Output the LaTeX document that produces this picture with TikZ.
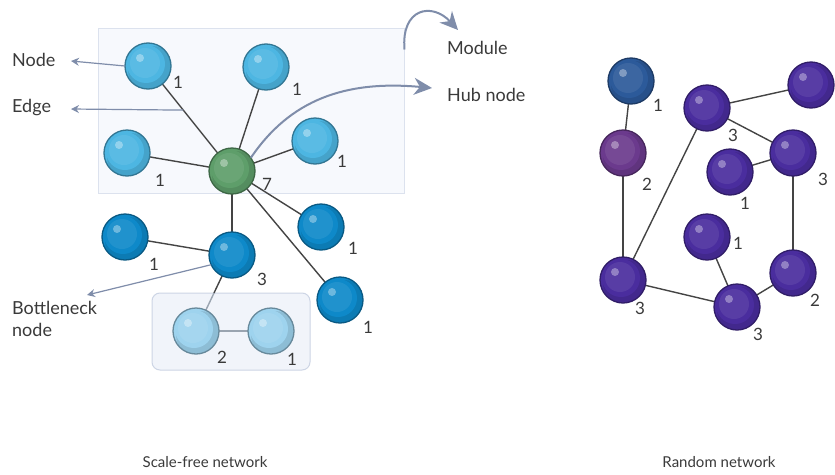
\documentclass[tikz,border=0pt]{standalone}
\usepackage{fontspec}
\setmainfont{Lato}
\usetikzlibrary{arrows.meta,calc}
\definecolor{modnode}{HTML}{4DB6E2}
\definecolor{outnode}{HTML}{0E89C9}
\definecolor{palenode}{HTML}{9ED3EE}
\definecolor{hubc}{HTML}{5E9E6A}
\definecolor{randc}{HTML}{4A2D9E}
\definecolor{rblue}{HTML}{2C5A9A}
\definecolor{rpurple}{HTML}{6B3A8D}
\definecolor{edgec}{HTML}{444444}
\definecolor{edgelight}{HTML}{9AA4B0}
\definecolor{txt}{HTML}{3A3A3A}
\definecolor{arrc}{HTML}{7F8DAA}
\definecolor{boxfill}{HTML}{F7F9FD}
\definecolor{boxline}{HTML}{DCE2EE}
\definecolor{subfill}{HTML}{F1F4FA}
\definecolor{subline}{HTML}{CDD5E5}
\pgfdeclarelayer{back}
\pgfdeclarelayer{links}
\pgfsetlayers{back,links,main}
\tikzset{
  ball/.style={circle, minimum size=46pt, inner sep=0pt, outer sep=0pt,
    line width=1.3pt, draw=#1!65!black, fill=#1,
    path picture={
      \fill[black, opacity=0.10] ([xshift=4pt,yshift=-4pt]path picture bounding box.center) circle (24pt);
      \fill[#1] ([xshift=-2pt,yshift=2pt]path picture bounding box.center) circle (19pt);
      \fill[white, opacity=0.08] ([xshift=-3pt,yshift=3pt]path picture bounding box.center) circle (15pt);
      \fill[white, opacity=0.35] ([xshift=-8pt,yshift=8pt]path picture bounding box.center) circle (4pt);
    }},
  link/.style={draw=edgec, line width=1.4pt},
  linklight/.style={draw=edgelight, line width=1.4pt},
  deg/.style={font=\fontsize{17}{19}\selectfont, text=txt, inner sep=0pt},
  lbl/.style={font=\fontsize{18}{22}\selectfont, text=txt, inner sep=0pt, anchor=west, align=left},
  bottom/.style={font=\fontsize{15}{18}\selectfont, text=txt, inner sep=0pt},
  thinarrow/.style={draw=arrc, line width=1.2pt, -{Stealth[length=8pt,width=8pt]}},
  bigarrow/.style={draw=arrc, line width=2pt, -{Stealth[length=18pt,width=17pt]}},
}
\begin{document}
\begin{tikzpicture}[x=1pt,y=-1pt]
\useasboundingbox (0,0) rectangle (835,474);

% background and module boxes
\begin{pgfonlayer}{back}
\fill[white] (0,0) rectangle (835,474);
\node[draw=boxline, fill=boxfill, line width=1pt, minimum width=306pt, minimum height=165pt, inner sep=0pt] (module) at (251,110.5) {};
\node[draw=subline, fill=subfill, line width=1pt, rounded corners=8pt, minimum width=158pt, minimum height=77pt, inner sep=0pt] (submod) at (231,331.5) {};
\end{pgfonlayer}

% scale-free nodes
\node[ball=modnode] (n1) at (148,66) {};
\node[ball=modnode] (n2) at (266,67) {};
\node[ball=modnode] (n3) at (127,153) {};
\node[ball=hubc] (hub) at (232,171) {};
\node[ball=modnode] (n4) at (315,141) {};
\node[ball=outnode] (n5) at (125,237) {};
\node[ball=outnode] (b) at (232,255) {};
\node[ball=outnode] (n6) at (321,227) {};
\node[ball=outnode] (n7) at (340,300) {};
\node[ball=palenode] (l1) at (196,331) {};
\node[ball=palenode] (l2) at (271,331) {};

% random nodes
\node[ball=rblue] (r1) at (631,81) {};
\node[ball=rpurple] (r2) at (623,153) {};
\node[ball=randc] (r3) at (623,280) {};
\node[ball=randc] (r4) at (707,108) {};
\node[ball=randc] (r5) at (811,85) {};
\node[ball=randc] (r6) at (793,153) {};
\node[ball=randc] (r7) at (730,172) {};
\node[ball=randc] (r8) at (707,237) {};
\node[ball=randc] (r9) at (793,273) {};
\node[ball=randc] (r10) at (737,307) {};

\coordinate (bmid) at ($(b)!0.5!(l1)$);
\begin{pgfonlayer}{links}
\foreach \t in {n1,n2,n3,n4,n6,n7,b} \draw[link] (hub) -- (\t);
\draw[link] (b) -- (n5);
\draw[link] (b) -- (bmid);
\draw[linklight] (bmid) -- (l1);
\draw[linklight] (l1) -- (l2);
\draw[link] (r1) -- (r2);
\draw[link] (r2) -- (r3);
\draw[link] (r3) -- (r4);
\draw[link] (r3) -- (r10);
\draw[link] (r4) -- (r5);
\draw[link] (r4) -- (r6);
\draw[link] (r6) -- (r7);
\draw[link] (r6) -- (r9);
\draw[link] (r8) -- (r10);
\draw[link] (r9) -- (r10);
\end{pgfonlayer}

% degrees
\node[deg] (dn1) at (178,82) {1};
\node[deg] (dn2) at (297,89) {1};
\node[deg] (dn3) at (160,180) {1};
\node[deg] (dhub) at (267,184) {7};
\node[deg] (dn4) at (342,161) {1};
\node[deg] (dn5) at (154,264) {1};
\node[deg] (db) at (262,279) {3};
\node[deg] (dn6) at (353,248) {1};
\node[deg] (dn7) at (368,327) {1};
\node[deg] (dl1) at (222,357) {2};
\node[deg] (dl2) at (292,359) {1};
\node[deg] (dr1) at (658,105) {1};
\node[deg] (dr2) at (647,184) {2};
\node[deg] (dr3) at (640,308) {3};
\node[deg] (dr4) at (733,135) {3};
\node[deg] (dr6) at (823,179) {3};
\node[deg] (dr7) at (745,203) {1};
\node[deg] (dr8) at (738,243) {1};
\node[deg] (dr9) at (815,300) {2};
\node[deg] (dr10) at (758,334) {3};

% annotation labels
\node[lbl] (tnode) at (12,60) {Node};
\node[lbl] (tedge) at (12,108) {Edge};
\node[lbl] (tmod) at (447,48) {Module};
\node[lbl] (thub) at (447,95) {Hub node};
\node[lbl] (tbn) at (12,319) {Bottleneck\\node};
\node[bottom] (tsf) at (205,462) {Scale-free network};
\node[bottom] (trn) at (719,462) {Random network};

% annotation arrows
\coordinate (nodetip) at (71,61);
\coordinate (edgept) at ($(n1)!0.42!(hub)$);
\coordinate (edgetip) at (71,109);
\coordinate (bntip) at (87,295);
\coordinate (hubtip) at (432,88);
\coordinate (modtip) at (458,30);
\draw[thinarrow] (n1.west) -- (nodetip);
\draw[thinarrow] (edgept) -- (edgetip);
\draw[thinarrow] (b.205) -- (bntip);
\draw[bigarrow] (hub.35) .. controls (290,100) and (345,80) .. (hubtip);
\draw[bigarrow] ([yshift=-22pt]module.north east) .. controls (401,8) and (432,2) .. (modtip);
\end{tikzpicture}
\end{document}
